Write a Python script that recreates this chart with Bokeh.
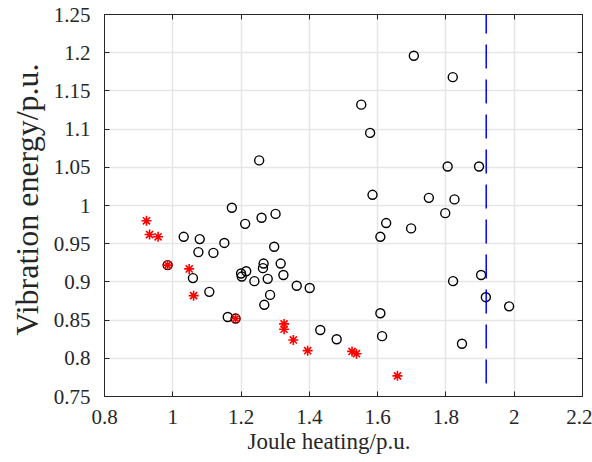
from bokeh.plotting import figure
from bokeh.models import LinearAxis, Range1d, FixedTicker, ColumnDataSource, Title
from bokeh.embed import file_html
from bokeh.resources import INLINE

# Black circles (all samples)
circle_x = [0.985, 1.032, 1.079, 1.075, 1.119, 1.151, 1.173, 1.212, 1.260, 1.301,
            1.297, 1.059, 1.107, 1.161, 1.184, 1.200, 1.202, 1.215, 1.239, 1.266,
            1.264, 1.278, 1.316, 1.324, 1.285, 1.268, 1.363, 1.401, 1.432, 1.480,
            1.608, 1.613, 1.253, 1.706, 1.820, 1.552, 1.578, 1.805, 1.897, 1.585,
            1.750, 1.825, 1.798, 1.625, 1.698, 1.608, 1.821, 1.903, 1.917, 1.985,
            1.847]
circle_y = [0.922, 0.959, 0.956, 0.939, 0.938, 0.951, 0.997, 0.976, 0.984, 0.989,
            0.946, 0.905, 0.887, 0.854, 0.852, 0.911, 0.907, 0.914, 0.901, 0.924,
            0.918, 0.904, 0.924, 0.909, 0.883, 0.870, 0.895, 0.892, 0.837, 0.825,
            0.859, 0.829, 1.059, 1.196, 1.168, 1.132, 1.095, 1.051, 1.051, 1.014,
            1.010, 1.008, 0.990, 0.977, 0.970, 0.959, 0.901, 0.909, 0.880, 0.868,
            0.819]

# Red stars (Pareto front)
star_x = [0.923, 0.932, 0.957, 0.985, 1.048, 1.061, 1.184, 1.326, 1.326, 1.353,
          1.395, 1.525, 1.538, 1.658]
star_y = [0.980, 0.962, 0.959, 0.922, 0.917, 0.882, 0.852, 0.845, 0.838, 0.824,
          0.810, 0.809, 0.806, 0.777]

# Vertical dashed limit line
limit_x = [1.918, 1.918]
limit_y = [0.767, 1.25]

x_ticks = [0.8, 1.0, 1.2, 1.4, 1.6, 1.8, 2.0, 2.2]
y_ticks = [0.75, 0.8, 0.85, 0.9, 0.95, 1.0, 1.05, 1.1, 1.15, 1.2, 1.25]
x_tick_labels = {0.8: "0.8", 1.0: "1", 1.2: "1.2", 1.4: "1.4", 1.6: "1.6",
                 1.8: "1.8", 2.0: "2", 2.2: "2.2"}
y_tick_labels = {0.75: "0.75", 0.8: "0.8", 0.85: "0.85", 0.9: "0.9", 0.95: "0.95",
                 1.0: "1", 1.05: "1.05", 1.1: "1.1", 1.15: "1.15", 1.2: "1.2",
                 1.25: "1.25"}
x_label = "Joule heating/p.u."
y_label = "Vibration energy/p.u."

FONT = "Times New Roman, Liberation Serif, serif"
AX = "#262626"

p = figure(width=592, height=462, output_backend="svg", toolbar_location=None,
           x_range=Range1d(0.8, 2.2), y_range=Range1d(0.75, 1.25),
           min_border_left=102, min_border_right=10, min_border_top=14,
           min_border_bottom=66)
p.background_fill_color = "white"
p.border_fill_color = "white"
p.outline_line_color = AX
p.outline_line_width = 1

for ax, ticks, labels in ((p.xaxis[0], x_ticks, x_tick_labels),
                          (p.yaxis[0], y_ticks, y_tick_labels)):
    ax.ticker = FixedTicker(ticks=ticks)
    ax.major_label_overrides = labels
    ax.major_tick_in = 5
    ax.major_tick_out = 0
    ax.minor_tick_in = 0
    ax.minor_tick_out = 0
    ax.axis_line_color = AX
    ax.major_tick_line_color = AX
    ax.major_label_text_font = FONT
    ax.major_label_text_font_size = "21px"
    ax.major_label_text_color = "#262626"

p.xaxis[0].major_label_standoff = 13
p.yaxis[0].major_label_standoff = 14

p.add_layout(Title(text=x_label, align="left", offset=143, standoff=0,
                   vertical_align="bottom",
                   text_font=FONT, text_font_size="23px", text_font_style="normal",
                   text_color="#262626"), "below")
p.add_layout(Title(text=y_label, align="left", offset=61, standoff=12,
                   text_font=FONT, text_font_size="32px", text_font_style="normal",
                   text_color="#262626"), "left")

for loc, ticks in (("above", x_ticks), ("right", y_ticks)):
    a = LinearAxis(ticker=FixedTicker(ticks=ticks), major_tick_in=5, major_tick_out=0,
                   minor_tick_in=0, minor_tick_out=0, axis_line_color=AX,
                   major_tick_line_color=AX,
                   major_label_overrides={t: "" for t in ticks},
                   major_label_standoff=0)
    p.add_layout(a, loc)

p.xgrid.ticker = FixedTicker(ticks=x_ticks)
p.ygrid.ticker = FixedTicker(ticks=y_ticks)
p.grid.grid_line_color = "#e6e6e6"
p.grid.grid_line_width = 1.5

circles = ColumnDataSource(dict(x=circle_x, y=circle_y))
stars = ColumnDataSource(dict(x=star_x, y=star_y))

p.scatter("x", "y", source=circles, marker="circle", size=9, fill_color=None,
          line_color="black", line_width=1.4)
p.scatter("x", "y", source=stars, marker="asterisk", size=10, line_color="red",
          line_width=1.6)
p.line(limit_x, limit_y, line_color="#0000ff", line_width=1.5, line_dash="24 11")

open("out.html", "w").write(file_html(p, INLINE))
